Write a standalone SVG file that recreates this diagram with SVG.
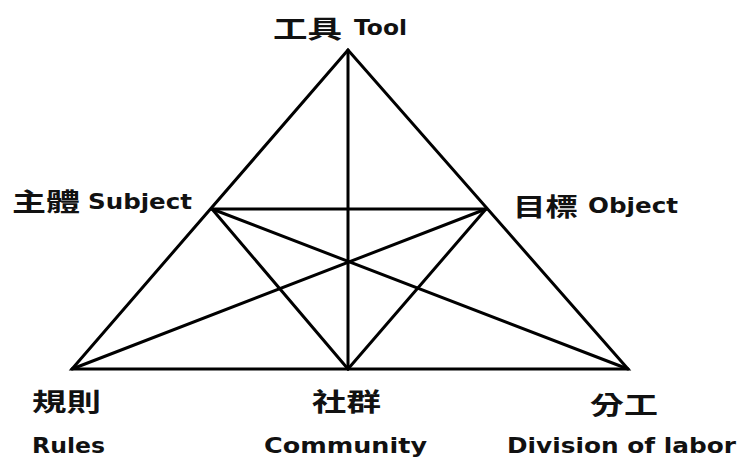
<svg xmlns="http://www.w3.org/2000/svg" width="739" height="458" viewBox="0 0 739 458">
  <style>
    .edge { stroke: #000; stroke-width: 3; fill: none; stroke-linejoin: miter; stroke-linecap: round; }
    .zh { font-family: "Noto Sans CJK TC", "Noto Sans CJK SC", sans-serif; font-weight: 700; font-size: 25px; fill: #111; }
    .en { font-family: "DejaVu Sans", "Liberation Sans", sans-serif; font-weight: bold; font-size: 22px; fill: #111; }
  </style>
  <rect width="739" height="458" fill="#ffffff"/>
  <g id="connectors">
    <polygon class="edge" points="348,50 72,369 628,369"/>
    <line class="edge" x1="212" y1="209" x2="486" y2="209"/>
    <line class="edge" x1="348" y1="50" x2="348" y2="369"/>
    <line class="edge" x1="212" y1="209" x2="348" y2="369"/>
    <line class="edge" x1="486" y1="209" x2="348" y2="369"/>
    <line class="edge" x1="212" y1="209" x2="628" y2="369"/>
    <line class="edge" x1="486" y1="209" x2="72" y2="369"/>
  </g>
  <g id="tool">
    <text class="zh" x="273" y="38" textLength="69" lengthAdjust="spacingAndGlyphs">工具</text>
    <text class="en" x="354" y="35" textLength="53" lengthAdjust="spacingAndGlyphs">Tool</text>
  </g>
  <g id="subject">
    <text class="zh" x="12" y="211" textLength="68" lengthAdjust="spacingAndGlyphs">主體</text>
    <text class="en" x="88" y="209" textLength="104" lengthAdjust="spacingAndGlyphs">Subject</text>
  </g>
  <g id="object">
    <text class="zh" x="513" y="216" textLength="65" lengthAdjust="spacingAndGlyphs">目標</text>
    <text class="en" x="588" y="213" textLength="90" lengthAdjust="spacingAndGlyphs">Object</text>
  </g>
  <g id="rules">
    <text class="zh" x="32" y="411" textLength="69" lengthAdjust="spacingAndGlyphs">規則</text>
    <text class="en" x="32" y="453" textLength="73" lengthAdjust="spacingAndGlyphs">Rules</text>
  </g>
  <g id="community">
    <text class="zh" x="312" y="411" textLength="69" lengthAdjust="spacingAndGlyphs">社群</text>
    <text class="en" x="264" y="453" textLength="163" lengthAdjust="spacingAndGlyphs">Community</text>
  </g>
  <g id="division">
    <text class="zh" x="590" y="414" textLength="68" lengthAdjust="spacingAndGlyphs">分工</text>
    <text class="en" x="507" y="453" textLength="229" lengthAdjust="spacingAndGlyphs">Division of labor</text>
  </g>
</svg>
